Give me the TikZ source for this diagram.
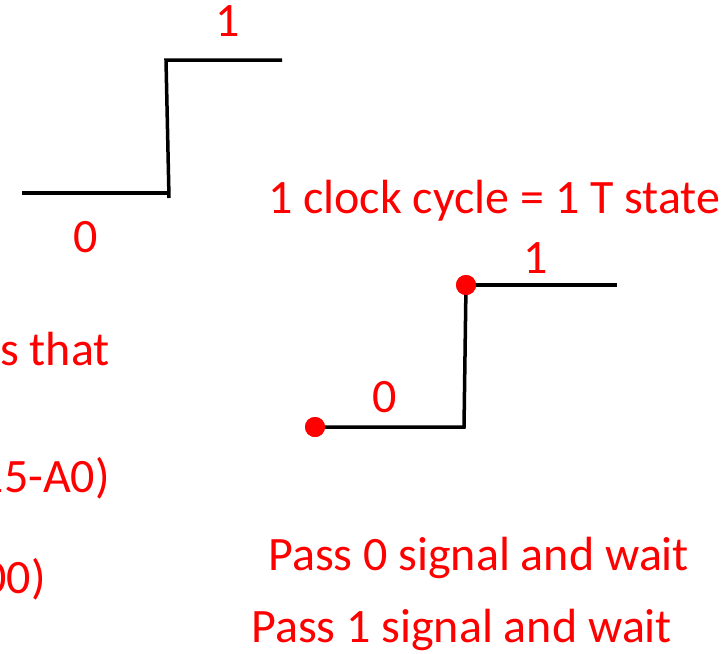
\documentclass[tikz,border=0pt]{standalone}
\usepackage{fontspec}
\setmainfont{Carlito}
\definecolor{sigred}{RGB}{255,0,0}
\tikzset{
  wave/.style={line width=3.5pt, black, line join=miter},
  lbl/.style={text=sigred, font=\fontsize{48}{52}\selectfont, inner sep=0pt},
  dot/.style={circle, fill=sigred, minimum size=20pt, inner sep=0pt}
}
\begin{document}
\begin{tikzpicture}[x=1pt, y=-1pt]
  \useasboundingbox (0,0) rectangle (725,653);
  \clip (0,0) rectangle (725,653);

  % first step waveform
  \coordinate (a0) at (22,193);
  \coordinate (a1) at (169,193);
  \coordinate (a1b) at (169,198);
  \coordinate (a2) at (166,60);
  \coordinate (a3) at (282,60);
  \draw[wave] (a0) -- (a1);
  \draw[wave] (a1b) -- (a2) -- (a3);
  \node[lbl, anchor=base] (a1lbl) at (228,36) {1};
  \node[lbl, anchor=base] (a0lbl) at (86,252) {0};

  % caption
  \node[lbl, anchor=base west] (cyc) at (268,213) {1 clock cycle = 1 T state};

  % second step waveform with sample points
  \node[dot] (d0) at (315,427) {};
  \node[dot] (d1) at (466,285) {};
  \coordinate (b1) at (464,427);
  \coordinate (b3) at (617,285);
  \draw[wave] (d0.center) -- (b1) -- (d1.center);
  \draw[wave] (d1.center) -- (b3);
  \node[dot] at (d0) {};
  \node[dot] at (d1) {};
  \node[lbl, anchor=base] (b1lbl) at (536,273) {1};
  \node[lbl, anchor=base] (b0lbl) at (385,412) {0};

  % left column text
  \node[lbl, anchor=base east] (t1) at (110,365) {s that};
  \node[lbl, anchor=base east] (t2) at (110,492) {15-A0)};
  \node[lbl, anchor=base east] (t3) at (46,593) {00)};

  % bottom captions
  \node[lbl, anchor=base west] (p0) at (268,570) {Pass 0 signal and wait};
  \node[lbl, anchor=base west] (p1) at (251,642) {Pass 1 signal and wait};
\end{tikzpicture}
\end{document}
